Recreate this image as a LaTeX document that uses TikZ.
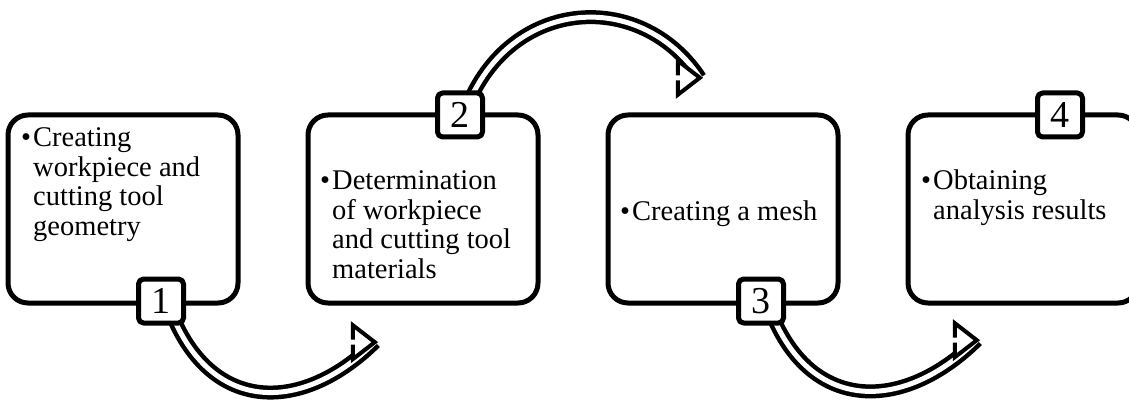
\documentclass[tikz,border=0pt]{standalone}
\usepackage{fontspec}
\setmainfont{Liberation Serif}
\usetikzlibrary{decorations.markings,backgrounds}
\tikzset{
  stage/.style={draw, line width=5pt, rounded corners=20pt, minimum width=230pt, minimum height=188pt, inner sep=0pt},
  num/.style={draw, line width=5pt, rounded corners=5pt, fill=white, minimum width=45pt, minimum height=44pt, inner sep=0pt, font=\fontsize{38}{38}\selectfont},
  txt/.style={anchor=base west, inner sep=0pt, font=\fontsize{28.5}{29.5}\selectfont},
  head/.pic={\draw[draw=black, fill=white, line width=4pt, line join=miter] (-22pt,2.5pt) -- (-22pt,17pt) -- (0,0) -- (-22pt,-17pt) -- (-22pt,-2.5pt);},
  flow/.style={preaction={draw=black, line width=14pt}, draw=white, line width=5pt, postaction={decorate},
    decoration={markings, mark=at position 0.999 with {\pic{head};}}}
}
\newcommand\bul[1]{\makebox[12pt][l]{\textbullet}\begin{tabular}[t]{@{}l@{}}#1\end{tabular}}
\begin{document}
\begin{tikzpicture}[x=1pt, y=1pt, line join=round]
\useasboundingbox (0,0) rectangle (1129,402);
\clip (0,0) rectangle (1129,402);
% stages
\node[stage] (s1) at (123,193) {};
\node[stage] (s2) at (423,193) {};
\node[stage] (s3) at (723,193) {};
\node[stage] (s4) at (1023,193) {};
\node[txt] (t1) at (21,255) {\bul{Creating\\workpiece and\\cutting tool\\geometry}};
\node[txt] (t2) at (320,212) {\bul{Determination\\of workpiece\\and cutting tool\\materials}};
\node[txt] (t3) at (620,182) {\bul{Creating a mesh}};
\node[txt] (t4) at (921,212) {\bul{Obtaining\\analysis results}};
% step numbers
\node[num] (n1) at (161,101) {1};
\node[num] (n2) at (460,287) {2};
\node[num] (n3) at (761,101) {3};
\node[num] (n4) at (1060,287) {4};
% curved arrows
\coordinate (e1) at (375,60);
\coordinate (e2) at (700,324);
\coordinate (e3) at (977,62);
\begin{pgfonlayer}{background}
\draw[flow] ([xshift=6pt]n1.center) .. controls +(38,-113) and +(-75,-74) .. (e1);
\draw[flow] ([xshift=4pt]n2.center) .. controls +(41,118) and +(-60,91) .. (e2);
\draw[flow] ([xshift=6pt]n3.center) .. controls +(38,-113) and +(-75,-74) .. (e3);
\end{pgfonlayer}
\end{tikzpicture}
\end{document}
